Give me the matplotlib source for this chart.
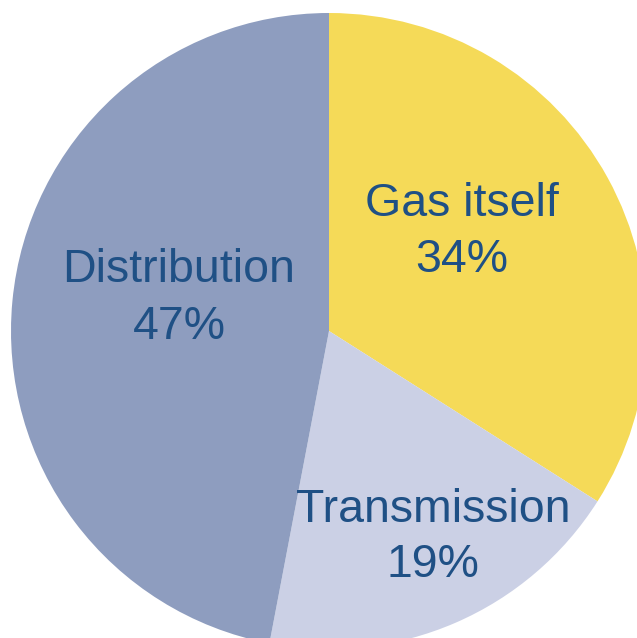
import matplotlib
matplotlib.use("Agg")
import matplotlib.pyplot as plt

labels = ["Gas itself", "Transmission", "Distribution"]
values = [34, 19, 47]
colors = ["#f5da58", "#cbd0e5", "#8e9dbf"]
text_color = "#1f5085"

W, H = 637, 638
fig = plt.figure(figsize=(W / 100, H / 100), dpi=100)
ax = fig.add_axes([0, 0, 1, 1])

cx, cy, r = 329, H - 331, 318
ax.pie(values, colors=colors, startangle=90, counterclock=False,
       center=(cx, cy), radius=r, frame=True,
       wedgeprops=dict(linewidth=0))
ax.set_xlim(0, W)
ax.set_ylim(0, H)
ax.set_aspect("equal")
ax.axis("off")

# (x centre, baseline of name line, baseline of percent line) in pixel coords
label_pos = {
    "Gas itself": (462, 216, 272),
    "Transmission": (433, 522, 577),
    "Distribution": (179, 282, 339),
}
for lab, v in zip(labels, values):
    x, y1, y2 = label_pos[lab]
    ax.text(x, H - y1, lab, ha="center", va="baseline",
            fontsize=33.5, color=text_color, family="Liberation Sans")
    ax.text(x, H - y2, f"{v}%", ha="center", va="baseline",
            fontsize=33.5, color=text_color, family="Liberation Sans")

fig.savefig("out.png", dpi=100)
